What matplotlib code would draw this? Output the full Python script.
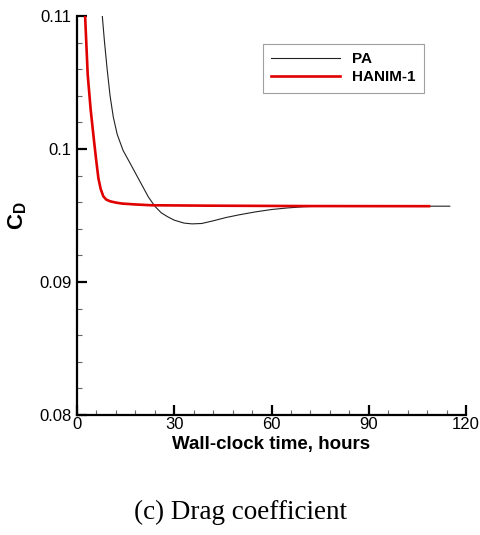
import matplotlib
matplotlib.use("Agg")
import matplotlib.pyplot as plt
from matplotlib.ticker import MultipleLocator, FixedLocator, FixedFormatter

plt.rcParams['font.family'] = ['Liberation Sans', 'DejaVu Sans']
plt.rcParams['mathtext.fontset'] = 'custom'
plt.rcParams['mathtext.rm'] = 'Liberation Sans:bold'
plt.rcParams['mathtext.bf'] = 'Liberation Sans:bold'
plt.rcParams['mathtext.it'] = 'Liberation Sans:bold'

# Drag coefficient history vs wall-clock time
pa_time = [7.8, 8.5, 9.3, 10.2, 11.2, 12.4, 13.6, 14.2, 16.0, 18.0, 20.0,
           22.0, 24.0, 26.0, 28.0, 30.0, 33.0, 35.5, 38.5, 42.0, 46.0, 50.0,
           55.0, 60.0, 65.0, 70.0, 75.0, 115.0]
pa_cd = [0.1100, 0.1080, 0.1060, 0.1040, 0.1024, 0.1011, 0.1003, 0.0999,
         0.0991, 0.0982, 0.0973, 0.0964, 0.0957, 0.0952, 0.0949, 0.09465,
         0.09443, 0.09437, 0.0944, 0.0946, 0.09485, 0.09505, 0.09527,
         0.09545, 0.09557, 0.09566, 0.0957, 0.0957]

hanim_time = [2.5, 3.3, 4.2, 5.3, 6.0, 6.6, 7.3, 8.1, 9.0, 10.2, 12.0, 13.8,
              18.0, 23.0, 40.0, 70.0, 108.6]
hanim_cd = [0.1100, 0.1056, 0.1030, 0.1005, 0.0990, 0.0978, 0.0970, 0.09645,
            0.0962, 0.09607, 0.09597, 0.0959, 0.09583, 0.09577, 0.09574,
            0.09571, 0.0957]

x_ticks = [0, 30, 60, 90, 120]
y_ticks = [0.08, 0.09, 0.10, 0.11]
y_tick_labels = ["0.08", "0.09", "0.1", "0.11"]

fig = plt.figure(figsize=(4.8, 5.35), dpi=100)
ax = fig.add_axes([77 / 480, 1 - 415 / 535, 389 / 480, 399 / 535])

ax.plot(pa_time, pa_cd, color='#222222', lw=0.8, label='PA')
ax.plot(hanim_time, hanim_cd, color='#e00000', lw=1.9, label='HANIM-1')

ax.set_xlim(0, 120)
ax.set_ylim(0.08, 0.11)

for side in ('top', 'right'):
    ax.spines[side].set_visible(False)
for side in ('left', 'bottom'):
    ax.spines[side].set_linewidth(1.6)

ax.xaxis.set_major_locator(FixedLocator(x_ticks))
ax.xaxis.set_minor_locator(MultipleLocator(6))
ax.yaxis.set_major_locator(FixedLocator(y_ticks))
ax.yaxis.set_major_formatter(FixedFormatter(y_tick_labels))
ax.yaxis.set_minor_locator(MultipleLocator(0.002))

ax.tick_params(which='major', direction='in', length=7, width=1.6,
               labelsize=12, pad=1.5)
ax.tick_params(which='minor', direction='in', length=3.5, width=0.8,
               color='#666666')
ax.tick_params(axis='y', which='major', pad=4)

ax.set_xlabel('Wall-clock time, hours', fontsize=13.5, fontweight='bold',
              labelpad=3)
ax.set_ylabel(r'$\mathbf{C_D}$', fontsize=16, labelpad=7)

leg = ax.legend(loc='upper left', bbox_to_anchor=(0.478, 0.93),
                prop={'weight': 'bold', 'size': 11}, frameon=True,
                fancybox=False, handlelength=4.5, handletextpad=0.8,
                borderpad=0.55, labelspacing=0.25, borderaxespad=0)
leg.get_frame().set_edgecolor('#888888')
leg.get_frame().set_linewidth(0.8)

fig.text(0.5, 1 - 512 / 535, '(c) Drag coefficient', ha='center', va='center',
         fontsize=19.5, family='Liberation Serif')

fig.savefig('out.png', dpi=100)
